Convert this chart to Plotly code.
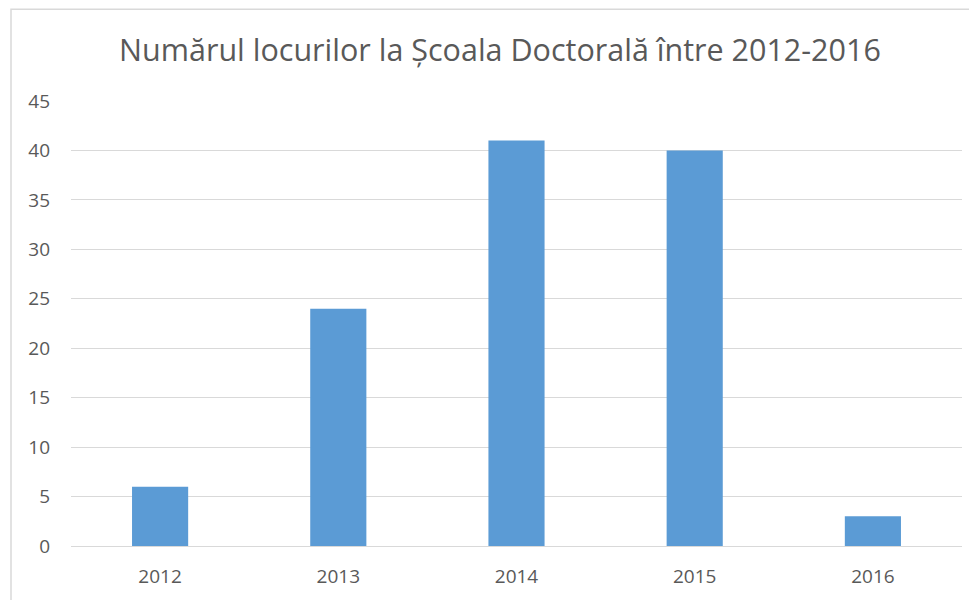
import plotly.graph_objects as go

years = ["2012", "2013", "2014", "2015", "2016"]
locuri = [6, 24, 41, 40, 3]
y_ticks = [0, 5, 10, 15, 20, 25, 30, 35, 40, 45]

OFF = 8  # page body margin
W, H = 977 - OFF, 600 - OFF
L, T = 71 - OFF, 101 - OFF
R = W - (962 - OFF)
B = H - (546 - OFF)
pw, ph = W - L - R, H - T - B

def px_x(x):
    return (x - OFF - L) / pw

def px_y(y):
    return (H - B - (y - OFF)) / ph

fig = go.Figure(go.Bar(x=years, y=locuri, marker=dict(color="#5B9BD5", line=dict(width=0)),
                       width=0.315))

fig.update_layout(
    width=W, height=H,
    margin=dict(l=L, r=R, t=T, b=B),
    paper_bgcolor="white", plot_bgcolor="white",
    font=dict(family="Open Sans, Liberation Sans, sans-serif", color="#595959", size=19),
    title=dict(text="Numărul locurilor la Școala Doctorală între 2012-2016",
               x=px_x(500), xref="paper", xanchor="center",
               y=1 - (50 - OFF) / H, yref="container", yanchor="middle",
               font=dict(size=30.5, color="#595959")),
    showlegend=False,
    xaxis=dict(showgrid=False, showline=False, ticks="", tickfont=dict(size=19),
               ticklabelstandoff=17),
    yaxis=dict(range=[0, 45], tickvals=y_ticks, showgrid=True, gridcolor="#D9D9D9",
               gridwidth=1, zeroline=True, zerolinecolor="#D9D9D9", zerolinewidth=1,
               showline=False, ticks="", tickfont=dict(size=19), ticklabelstandoff=20),
    shapes=[dict(type="rect", xref="paper", yref="paper",
                 x0=px_x(11), x1=px_x(990), y0=px_y(610), y1=px_y(9.2),
                 line=dict(color="#D9D9D9", width=1.5), fillcolor="rgba(0,0,0,0)", layer="below")],
)

fig.write_html("out.html")
